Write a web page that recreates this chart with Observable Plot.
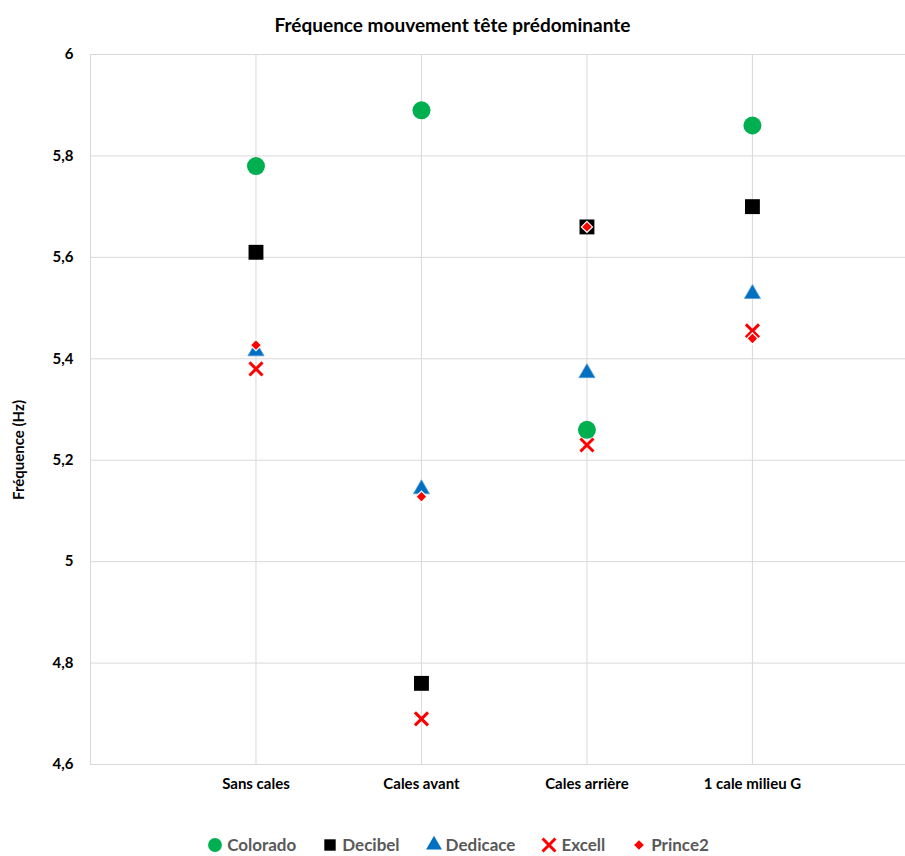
<!DOCTYPE html>
<html>
<head>
<meta charset="utf-8">
<script src="https://cdn.jsdelivr.net/npm/d3@7"></script>
<script src="https://cdn.jsdelivr.net/npm/@observablehq/plot@0.6"></script>
<style>
  html, body { margin: 0; padding: 0; background: #fff; width: 905px; height: 856px; overflow: hidden; position: relative; }
  body { font-family: Lato, "Open Sans", sans-serif; }
  #title { height: 40px; text-align: center; font-weight: bold; font-size: 19px; line-height: 50px; color: #000; }
  #chart svg { display: block; }
  #ylabel { position: absolute; left: 18px; top: 450px; transform: translate(-50%, -50%) rotate(-90deg); font-weight: bold; font-size: 15px; white-space: nowrap; color: #000; }
  #legend { position: absolute; left: 0; right: 0; top: 836px; height: 18px; display: flex; justify-content: center; align-items: center; gap: 25px; font-weight: bold; font-size: 17px; line-height: 18px; color: #595959; padding-left: 10px; }
  .item { display: flex; align-items: center; gap: 3px; }
  .item svg { display: block; }
</style>
</head>
<body>
<div id="title">Fréquence mouvement tête prédominante</div>
<div id="chart"></div>
<div id="ylabel">Fréquence (Hz)</div>
<div id="legend"></div>
<script>
const categories = ["Sans cales", "Cales avant", "Cales arrière", "1 cale milieu G"];
const seriesNames = ["Colorado", "Decibel", "Dedicace", "Excell", "Prince2"];
const colorado = [5.78, 5.89, 5.26, 5.86];
const decibel  = [5.61, 4.76, 5.66, 5.70];
const dedicace = [5.415, 5.143, 5.372, 5.528];
const excell   = [5.38, 4.69, 5.23, 5.455];
const prince2  = [5.427, 5.128, 5.66, 5.44];
const yTicks = [4.6, 4.8, 5.0, 5.2, 5.4, 5.6, 5.8, 6.0];

const seriesValues = [colorado, decibel, dedicace, excell, prince2];
const styles = {
  Colorado: {symbol: "circle", fill: "#00B050", r: 9},
  Decibel:  {symbol: "square", fill: "#000000", r: 8.4},
  Dedicace: {symbol: "triangle", fill: "#0070C0", r: 6, stroke: "#5b9bd5", strokeWidth: 0.8},
  Excell:   {symbol: "times", stroke: "#FF0000", r: 6, strokeWidth: 3},
  Prince2:  {symbol: "diamond2", fill: "#FF0000", r: 5, stroke: "#fff", strokeWidth: 1.2}
};

const rows = seriesNames.map((s, k) => categories.map((c, i) => ({series: s, pos: i + 1, value: seriesValues[k][i]})));

const fmt = d => String(+d.toFixed(1)).replace(".", ",");
const xMax = 4.925;

const marks = [
  Plot.ruleY(yTicks, {x1: 0, x2: xMax, stroke: "#d9d9d9", strokeWidth: 1}),
  Plot.ruleX([1, 2, 3, 4], {y1: 4.6, y2: 6, stroke: "#d9d9d9", strokeWidth: 1}),
  Plot.ruleX([0], {y1: 4.6, y2: 6, stroke: "#d9d9d9", strokeWidth: 1}),
  Plot.axisY({ticks: yTicks, tickFormat: fmt, tickSize: 0, tickPadding: 17, label: null, fontWeight: "bold", fontSize: 15}),
  Plot.axisX({ticks: [1, 2, 3, 4], tickFormat: i => categories[i - 1], tickSize: 0, tickPadding: 14, label: null, fontWeight: "bold", fontSize: 15})
];
seriesNames.forEach((s, k) => {
  const st = styles[s];
  const opts = {x: "pos", y: "value", symbol: () => st.symbol, r: st.r};
  if (st.fill) { opts.fill = st.fill; if (st.stroke) { opts.stroke = st.stroke; opts.strokeWidth = st.strokeWidth; } }
  else { opts.fill = "none"; opts.stroke = st.stroke; opts.strokeWidth = st.strokeWidth; }
  marks.push(Plot.dot(rows[k], opts));
});

const chart = Plot.plot({
  width: 905,
  height: 770,
  marginTop: 14,
  marginBottom: 46,
  marginLeft: 90,
  marginRight: 0,
  style: {fontFamily: "Lato, 'Open Sans', sans-serif", color: "#000", background: "#fff"},
  x: {type: "linear", domain: [0, xMax], range: [90, 905], axis: null},
  y: {domain: [4.6, 6], axis: null},
  symbol: {type: "identity"},
  marks
});
document.getElementById("chart").appendChild(chart);

// legend
const legend = document.getElementById("legend");
seriesNames.forEach(s => {
  const st = styles[s];
  const item = document.createElement("div");
  item.className = "item";
  const size = 18;
  const svg = d3.create("svg").attr("width", size).attr("height", size);
  const symMap = {circle: d3.symbolCircle, square: d3.symbolSquare, triangle: d3.symbolTriangle, times: d3.symbolTimes, diamond2: d3.symbolDiamond2};
  const legendSizes = {Colorado: 150, Decibel: 130, Dedicace: 110, Excell: 110, Prince2: 60};
  const p = svg.append("path").attr("transform", `translate(${size/2},${size/2})`)
    .attr("d", d3.symbol(symMap[st.symbol], legendSizes[s])());
  if (st.fill) p.attr("fill", st.fill); else p.attr("fill", "none").attr("stroke", st.stroke).attr("stroke-width", 3);
  item.appendChild(svg.node());
  const t = document.createElement("span");
  t.textContent = s;
  item.appendChild(t);
  legend.appendChild(item);
});
</script>
</body>
</html>
